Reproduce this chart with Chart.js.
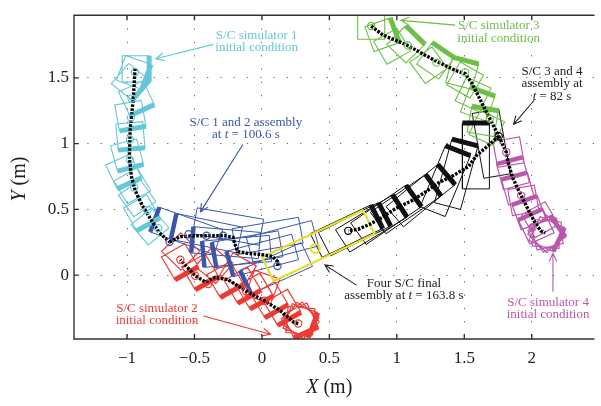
<!DOCTYPE html>
<html><head><meta charset="utf-8">
<script src="https://cdn.jsdelivr.net/npm/chart.js@4.4.0/dist/chart.umd.min.js"></script>
<style>html,body{margin:0;padding:0;background:#fff;overflow:hidden}</style>
</head><body>
<canvas id="c" width="601" height="406"></canvas>
<script>
// ---------- axes ----------
const xTicks = [-1, -0.5, 0, 0.5, 1, 1.5, 2];
const yTicks = [0, 0.5, 1, 1.5];
const xRange = [-1.393, 2.465];
const yRange = [-0.4854, 1.9766];

// ---------- spacecraft sizes (m) ----------
const SIDE = 0.2, PAIR_LEN = 0.5, FOUR_LEN = 0.83;

// ---------- S/C simulator 1 (cyan) squares: centre, docking-face angle, thick face flag ----------
const cyanX = [-0.936,-0.950,-0.975,-0.930,-0.975,-0.975,-1.000,-1.025,-0.960,-0.925,-0.890,-0.830];
const cyanY = [1.568,1.542,1.469,1.345,1.213,1.059,0.913,0.789,0.679,0.584,0.474,0.371];
const cyanA = [0,-20,-40,-65,-80,-85,-75,-65,-60,-55,-60,-50];
const cyanT = [1,1,1,1,1,1,1,1,0,0,1,0];
const cyanPathX = [-0.940,-0.954,-0.976,-0.983,-0.968,-0.939,-0.888,-0.822,-0.764,-0.685];
const cyanPathY = [1.572,1.337,1.118,0.898,0.752,0.642,0.532,0.422,0.327,0.252];
const cyanCircX = [-0.941,-0.966,-0.971,-0.978,-0.978,-0.947,-0.849,-0.769];
const cyanCircY = [1.545,1.343,1.198,1.032,0.876,0.666,0.496,0.357];

// ---------- S/C simulator 2 (red) ----------
const redX = [0.285,0.285,0.285,0.285,0.285,0.153,0.058,-0.052,-0.143,-0.272,-0.458,-0.608,-0.354,-0.602,-0.178,0.005];
const redY = [-0.345,-0.345,-0.345,-0.345,-0.345,-0.245,-0.187,-0.121,-0.077,-0.033,0.026,0.102,0.078,0.181,0.034,-0.090];
const redA = [-5,-20,-35,-50,-65,-60,-60,-60,-60,-60,-60,-60,-40,-45,-30,-20];
const redT = [0,1,0,0,1,1,1,1,1,1,1,1,0,0,0,0];
const redPathX = [0.269,0.237,0.139,0.018,-0.117,-0.251,-0.348,-0.419,-0.495,-0.605];
const redPathY = [-0.368,-0.359,-0.273,-0.195,-0.122,-0.034,-0.017,-0.053,-0.004,0.117];
const redCircX = [-0.605,-0.495,-0.398,-0.117,0.018,0.269];
const redCircY = [0.117,-0.004,-0.068,-0.122,-0.195,-0.368];

// ---------- S/C simulator 3 (green) ----------
const greenX = [0.810,0.891,0.964,1.067,1.235,1.286,1.484,1.506,1.565,1.600,1.637,1.666];
const greenY = [1.894,1.828,1.740,1.755,1.596,1.630,1.535,1.484,1.374,1.301,1.169,1.118];
const greenA = [0,20,30,45,35,55,75,60,65,70,80,65];
const greenT = [0,1,0,1,0,1,1,0,0,1,1,0];
const greenPathX = [0.810,0.896,1.067,1.286,1.433,1.506,1.555,1.592,1.652,1.689,1.755];
const greenPathY = [1.894,1.826,1.753,1.630,1.557,1.533,1.460,1.387,1.264,1.191,1.057];
const greenCircX = [0.810,1.081,1.294,1.506,1.689];
const greenCircY = [1.894,1.747,1.616,1.542,1.191];

// ---------- S/C simulator 4 (magenta) ----------
const magX = [2.111,2.111,2.111,2.111,2.111,1.828,1.861,1.898,1.938,1.982,2.033,2.062];
const magY = [0.313,0.313,0.313,0.313,0.313,0.935,0.774,0.657,0.569,0.474,0.371,0.422];
const magA = [-45,-25,-5,15,35,100,105,105,100,110,115,120];
const magT = [0,1,0,0,1,0,1,1,0,1,1,0];
const magPathX = [1.755,1.811,1.823,1.859,1.921,1.969,2.018,2.067,2.100];
const magPathY = [1.057,0.935,0.862,0.739,0.605,0.508,0.410,0.337,0.320];
const magCircX = [1.811,1.921,2.006];
const magCircY = [0.935,0.605,0.362];

// ---------- S/C 1+2 assembly (blue) ----------
const blueX = [-0.559,-0.410,-0.267,-0.186,-0.108,0.004,0.106,-0.251,0.042,0.152];
const blueY = [0.337,0.319,0.247,0.181,0.195,0.150,0.052,0.370,0.298,0.254];
const blueA = [-20,-12,-5,5,10,15,25,-10,10,15];
const blueT = [1,1,1,1,1,1,1,0,0,0];
const bluePathX = [-0.685,-0.605,-0.485,-0.275,-0.214,-0.202,-0.178,-0.105,0.018,0.078,0.115,0.120];
const bluePathY = [0.252,0.293,0.300,0.300,0.288,0.239,0.179,0.166,0.154,0.142,0.105,0.064];
const blueCircX = [-0.685,-0.544,-0.411,-0.288,0.115];
const blueCircY = [0.252,0.311,0.300,0.300,0.069];

// ---------- S/C 3+4 assembly (black) ----------
const blkX = [1.586,1.440,1.359,1.176,1.066,0.920,0.810,0.686,0.627,1.700];
const blkY = [0.906,0.767,0.715,0.605,0.540,0.459,0.393,0.349,0.335,1.000];
const blkA = [90,75,68,40,35,35,32,27,26,100];
const blkT = [1,1,1,1,1,1,1,1,1,0];
const blkPathX = [1.755,1.676,1.592,1.530,1.409,1.310,1.226,1.116,0.993,0.884,0.798,0.713,0.640];
const blkPathY = [1.057,0.984,0.911,0.825,0.752,0.703,0.642,0.569,0.508,0.435,0.386,0.349,0.337];
const blkCircX = [1.755,0.640];
const blkCircY = [1.057,0.337];

// ---------- final four S/C assembly (yellow) ----------
const yelX = [0.418], yelY = [0.225], yelA = [25.5];
const yelCircX = [0.395], yelCircY = [0.203];

// ---------- annotations ----------
const noteTexts = [
  ['S/C simulator 1', 'initial condition'],
  ['S/C 1 and 2 assembly', 'at _t_ = 100.6 s'],
  ['S/C simulator 3', 'initial condition'],
  ['S/C 3 and 4', 'assembly at', '_t_ = 82 s'],
  ['Four S/C final', 'assembly at _t_ = 163.8 s'],
  ['S/C simulator 2', 'initial condition'],
  ['S/C simulator 4', 'initial condition']
];
const noteX = [-0.039, -0.119, 1.755, 2.150, 1.052, -0.778, 2.121];
const noteY = [1.795, 1.133, 1.868, 1.521, -0.090, -0.277, -0.236];
const arrowFromX = [-0.361, -0.141, 1.433, 2.018, 0.700, -0.434, 2.157];
const arrowFromY = [1.755, 0.993, 1.901, 1.330, -0.076, -0.310, -0.127];
const arrowToX = [-0.786, -0.456, 1.030, 1.865, 0.466, 0.064, 2.157];
const arrowToY = [1.645, 0.481, 1.937, 1.147, 0.078, -0.449, 0.166];

// ---------- styles ----------
const C = {cyan:'#63C7D7', blue:'#3B57A9', red:'#EC3B35', green:'#6EBF47', mag:'#B957A9', black:'#111111', yel:'#E5DF2A'};
const noteColors = [C.cyan, C.blue, C.green, '#222', '#222', C.red, C.mag];

// ---------- geometry helpers ----------
function outline(xs, ys, as, L, W) {
  const out = [];
  for (let i = 0; i < xs.length; i++) {
    const a = as[i] * Math.PI / 180, ux = Math.cos(a), uy = Math.sin(a), vx = -uy, vy = ux;
    const hl = L / 2, hw = W / 2, cx = xs[i], cy = ys[i];
    const p = [[1,1],[-1,1],[-1,-1],[1,-1],[1,1]];
    p.forEach(([s, t]) => out.push({x: cx + ux*hl*s + vx*hw*t, y: cy + uy*hl*s + vy*hw*t}));
    out.push({x: null, y: null});
  }
  return out;
}
function bars(xs, ys, as, ts, L, W, pos) {
  const out = [];
  for (let i = 0; i < xs.length; i++) {
    if (!ts[i]) continue;
    const a = as[i] * Math.PI / 180, ux = Math.cos(a), uy = Math.sin(a), vx = -uy, vy = ux;
    const mx = xs[i] + ux*L/2*pos, my = ys[i] + uy*L/2*pos;
    out.push({x: mx + vx*W/2, y: my + vy*W/2});
    out.push({x: mx - vx*W/2, y: my - vy*W/2});
    out.push({x: null, y: null});
  }
  return out;
}
const zip = (xs, ys) => xs.map((v, i) => ({x: v, y: ys[i]}));

function shapeSets(xs, ys, as, ts, L, pos, color, thin, thick) {
  return [
    {data: outline(xs, ys, as, L, SIDE), showLine: true, borderColor: color, borderWidth: thin, pointRadius: 0, order: 50},
    {data: bars(xs, ys, as, ts, L, SIDE, pos), showLine: true, borderColor: color, borderWidth: thick, pointRadius: 0, borderCapStyle: 'butt', order: 40}
  ];
}
function pathSet(xs, ys) {
  return {data: zip(xs, ys), showLine: true, borderColor: '#000', borderWidth: 3.4, borderDash: [2.6, 1.4], pointRadius: 0, order: 20};
}
function circSet(xs, ys, color) {
  return {data: zip(xs, ys), showLine: false, pointRadius: 3.6, pointBorderWidth: 1.2, pointBorderColor: color, pointBackgroundColor: 'rgba(0,0,0,0)', order: 10};
}

const datasets = [
  ...shapeSets(cyanX, cyanY, cyanA, cyanT, SIDE, 1, C.cyan, 1.1, 5),
  ...shapeSets(redX, redY, redA, redT, SIDE, 1, C.red, 1.2, 5),
  ...shapeSets(greenX, greenY, greenA, greenT, SIDE, 1, C.green, 1.1, 5),
  ...shapeSets(magX, magY, magA, magT, SIDE, 1, C.mag, 1.2, 4.5),
  ...shapeSets(blueX, blueY, blueA, blueT, PAIR_LEN, -1, C.blue, 1, 4.5),
  ...shapeSets(blkX, blkY, blkA, blkT, PAIR_LEN, 1, C.black, 1, 5),
  {data: outline(yelX, yelY, yelA, FOUR_LEN, SIDE), showLine: true, borderColor: C.yel, borderWidth: 2.2, pointRadius: 0, order: 30},
  pathSet(cyanPathX, cyanPathY), pathSet(redPathX, redPathY), pathSet(greenPathX, greenPathY),
  pathSet(magPathX, magPathY), pathSet(bluePathX, bluePathY), pathSet(blkPathX, blkPathY),
  circSet(cyanCircX, cyanCircY, C.cyan), circSet(redCircX, redCircY, C.red), circSet(greenCircX, greenCircY, C.green),
  circSet(magCircX, magCircY, C.mag), circSet(blueCircX, blueCircY, C.blue), circSet(blkCircX, blkCircY, '#000'),
  {data: zip(yelCircX, yelCircY), showLine: false, pointRadius: 4.5, pointBorderWidth: 2, pointBorderColor: C.yel, pointBackgroundColor: 'rgba(0,0,0,0)', order: 10}
];

const FONT = '"Liberation Serif", "DejaVu Serif", serif';
function richText(ctx, str, cx, y, size) {
  const parts = str.split('_');
  let w = 0;
  parts.forEach((p, i) => { ctx.font = (i % 2 ? 'italic ' : '') + size + 'px ' + FONT; w += ctx.measureText(p).width; });
  let x = cx - w / 2;
  parts.forEach((p, i) => { ctx.font = (i % 2 ? 'italic ' : '') + size + 'px ' + FONT; ctx.fillText(p, x, y); x += ctx.measureText(p).width; });
}

const decor = {
  id: 'decor',
  afterDatasetsDraw(chart) {
    const {ctx, chartArea: a, scales: {x, y}} = chart;
    ctx.save();
    // frame
    ctx.strokeStyle = '#333'; ctx.lineWidth = 1.4; ctx.setLineDash([]);
    ctx.beginPath();
    ctx.moveTo(a.right, a.top); ctx.lineTo(a.left, a.top); ctx.lineTo(a.left, a.bottom); ctx.lineTo(a.right, a.bottom);
    ctx.stroke();
    // inside ticks
    ctx.beginPath();
    xTicks.forEach(v => { const px = x.getPixelForValue(v);
      ctx.moveTo(px, a.bottom); ctx.lineTo(px, a.bottom - 5);
      ctx.moveTo(px, a.top); ctx.lineTo(px, a.top + 5); });
    yTicks.forEach(v => { const py = y.getPixelForValue(v);
      ctx.moveTo(a.left, py); ctx.lineTo(a.left + 5, py); });
    ctx.stroke();
    // arrows
    for (let i = 0; i < arrowFromX.length; i++) {
      const x0 = x.getPixelForValue(arrowFromX[i]), y0 = y.getPixelForValue(arrowFromY[i]);
      const x1 = x.getPixelForValue(arrowToX[i]), y1 = y.getPixelForValue(arrowToY[i]);
      const ang = Math.atan2(y1 - y0, x1 - x0), h = 9, sp = 0.45;
      ctx.strokeStyle = noteColors[i]; ctx.lineWidth = 1.1;
      ctx.beginPath(); ctx.moveTo(x0, y0); ctx.lineTo(x1, y1);
      ctx.moveTo(x1 - h*Math.cos(ang - sp), y1 - h*Math.sin(ang - sp)); ctx.lineTo(x1, y1);
      ctx.lineTo(x1 - h*Math.cos(ang + sp), y1 - h*Math.sin(ang + sp));
      ctx.stroke();
    }
    // notes
    ctx.textBaseline = 'alphabetic'; ctx.textAlign = 'left';
    noteTexts.forEach((lines, i) => {
      ctx.fillStyle = noteColors[i];
      const cx = x.getPixelForValue(noteX[i]), by = y.getPixelForValue(noteY[i]);
      lines.forEach((ln, j) => richText(ctx, ln, cx, by + j * 12.3, 13));
    });
    // axis titles
    ctx.fillStyle = '#222';
    richText(ctx, '_X_ (m)', (a.left + a.right) / 2 - 5, 393, 20);
    ctx.translate(25, (a.top + a.bottom) / 2 + 2);
    ctx.rotate(-Math.PI / 2);
    richText(ctx, '_Y_ (m)', 0, 0, 20);
    ctx.restore();
  }
};

const fmt = v => (v < 0 ? '\u2212' : '') + Math.abs(v);

new Chart(document.getElementById('c'), {
  type: 'scatter',
  data: {datasets},
  options: {
    responsive: false, animation: false, devicePixelRatio: 1,
    layout: {padding: {top: 3, right: 0, left: 0, bottom: 0}},
    plugins: {legend: {display: false}, tooltip: {enabled: false}},
    scales: {
      x: {
        type: 'linear', min: xRange[0], max: xRange[1],
        afterBuildTicks: s => { s.ticks = xTicks.map(v => ({value: v})); },
        afterFit: s => { s.height = 67; },
        ticks: {callback: fmt, font: {family: FONT, size: 17}, color: '#222', padding: 9, maxRotation: 0, autoSkip: false},
        grid: {color: '#666', lineWidth: 1, drawTicks: false},
        border: {display: false, dash: [1.3, 12]}
      },
      y: {
        type: 'linear', min: yRange[0], max: yRange[1],
        afterBuildTicks: s => { s.ticks = yTicks.map(v => ({value: v})); },
        afterFit: s => { s.width = 74; },
        ticks: {callback: fmt, font: {family: FONT, size: 17}, color: '#222', padding: 5, autoSkip: false},
        grid: {color: '#666', lineWidth: 1, drawTicks: false},
        border: {display: false, dash: [1.3, 12]}
      }
    }
  },
  plugins: [decor]
});
</script>
</body></html>
